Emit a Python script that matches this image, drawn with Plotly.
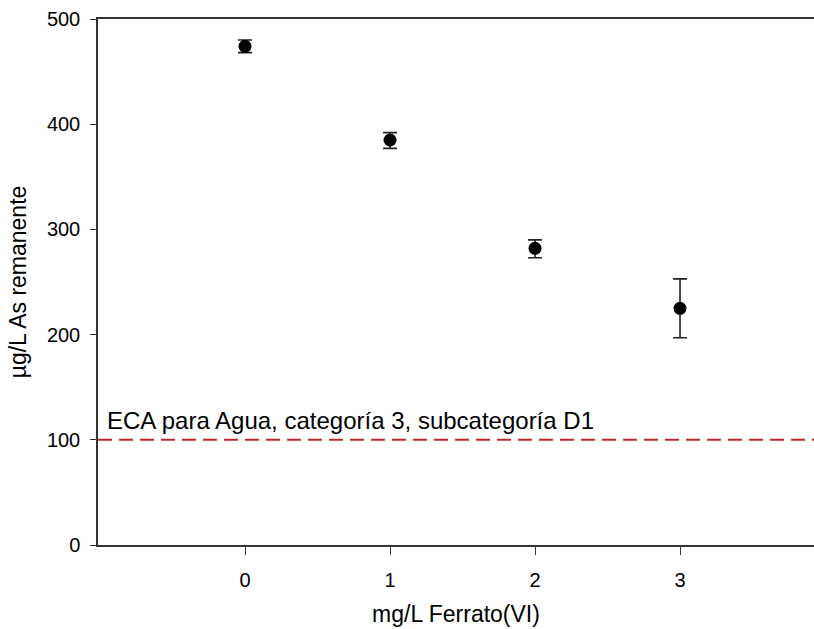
import plotly.graph_objects as go

dose = [0, 1, 2, 3]
arsenic = [474, 385, 282, 225]
err_plus = [6, 7, 8, 28]
err_minus = [6, 8, 9, 28]
eca_limit = 100
eca_label = "ECA para Agua, categoría 3, subcategoría D1"
x_ticks = [0, 1, 2, 3]
y_ticks = [0, 100, 200, 300, 400, 500]

FONT = "Liberation Sans, Arial, sans-serif"

fig = go.Figure()
fig.add_trace(go.Scatter(
    x=dose, y=arsenic, mode="markers",
    marker=dict(color="black", size=13),
    error_y=dict(type="data", symmetric=False, array=err_plus, arrayminus=err_minus,
                 color="#222222", thickness=1.6, width=7),
    showlegend=False,
))

fig.add_shape(type="line", xref="paper", yref="y", x0=0, x1=1, y0=eca_limit, y1=eca_limit,
              line=dict(color="#c0272d", width=2, dash="14px,7px"))

fig.add_annotation(x=-0.966, y=eca_limit, xref="x", yref="y", text=eca_label,
                   showarrow=False, xanchor="left", yanchor="bottom", yshift=4,
                   font=dict(family=FONT, size=24, color="black"))

fig.update_layout(
    width=814, height=629,
    margin=dict(l=98, r=0, t=19, b=84, autoexpand=False),
    plot_bgcolor="white", paper_bgcolor="white",
    font=dict(family=FONT, size=20, color="black"),
)
fig.update_xaxes(
    range=[-1.014, 3.924], tickvals=x_ticks, ticktext=[str(v) for v in x_ticks],
    showgrid=False, zeroline=False, showline=True, linecolor="#333333", linewidth=1.5,
    mirror=True, ticks="outside", ticklen=8, tickwidth=1.2, tickcolor="#333333",
    ticklabelstandoff=8,
    title=dict(text="mg/L Ferrato(VI)", font=dict(size=23), standoff=16),
    tickfont=dict(size=20), automargin=False,
)
fig.update_yaxes(
    range=[0, 500], tickvals=y_ticks,
    showgrid=False, zeroline=False, showline=True, linecolor="#333333", linewidth=1.5,
    ticks="outside", ticklen=6, tickwidth=1.2, tickcolor="#333333",
    ticklabelstandoff=6,
    title=dict(text="µg/L As remanente", font=dict(size=23), standoff=14),
    tickfont=dict(size=20), automargin=False,
)

fig.write_html(
    "out.html",
    config={"displayModeBar": False},
    post_script="document.body.style.margin='0';document.documentElement.style.overflow='hidden';",
)
